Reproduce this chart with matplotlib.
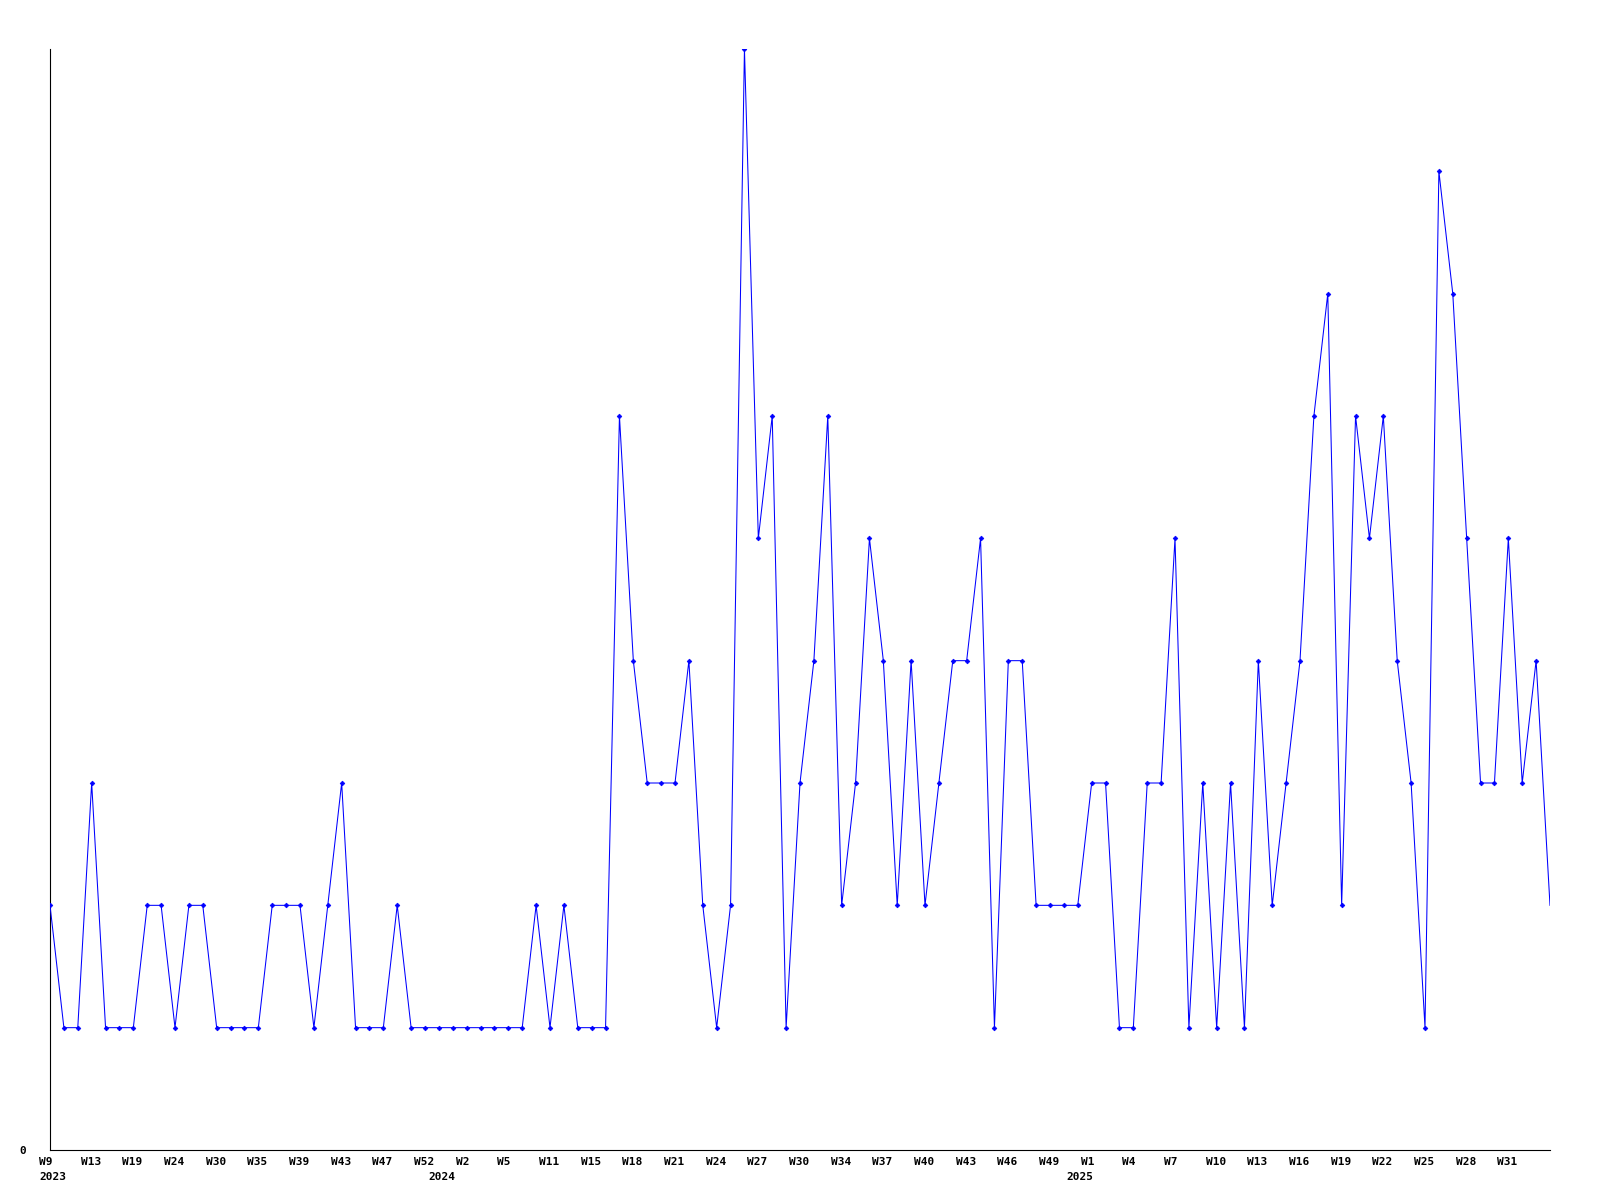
import matplotlib
matplotlib.use("Agg")
import matplotlib.pyplot as plt
import matplotlib.transforms as mtransforms

# ---- data -------------------------------------------------------------
values = [2, 1, 1, 3, 1, 1, 1, 2, 2, 1,
          2, 2, 1, 1, 1, 1, 2, 2, 2, 1,
          2, 3, 1, 1, 1, 2, 1, 1, 1, 1,
          1, 1, 1, 1, 1, 2, 1, 2, 1, 1,
          1, 6, 4, 3, 3, 3, 4, 2, 1, 2,
          9, 5, 6, 1, 3, 4, 6, 2, 3, 5,
          4, 2, 4, 2, 3, 4, 4, 5, 1, 4,
          4, 2, 2, 2, 2, 3, 3, 1, 1, 3,
          3, 5, 1, 3, 1, 3, 1, 4, 2, 3,
          4, 6, 7, 2, 6, 5, 6, 4, 3, 1,
          8, 7, 5, 3, 3, 5, 3, 4, 2]

week_labels = ["W9", "W13", "W19", "W24", "W30", "W35", "W39", "W43", "W47",
               "W52", "W2", "W5", "W11", "W15", "W18", "W21", "W24", "W27",
               "W30", "W34", "W37", "W40", "W43", "W46", "W49", "W1", "W4",
               "W7", "W10", "W13", "W16", "W19", "W22", "W25", "W28", "W31"]
week_label_step = 3

years = ["2023", "2024", "2025"]
year_positions = [0, 28, 74]

y_tick_values = [0]
y_tick_labels = ["0"]
y_max = 9

# ---- figure -----------------------------------------------------------
DPI = 100
fig = plt.figure(figsize=(16, 12), dpi=DPI, facecolor="white")
W, H = 1600, 1200
left_px, right_px, top_px, bottom_px = 50, 1550, 49, 1150
ax = fig.add_axes([left_px / W, 1 - bottom_px / H,
                   (right_px - left_px) / W, (bottom_px - top_px) / H])

xs = list(range(len(values)))
ax.plot(xs, values, color="#0000ff", linewidth=0.75, marker="D",
        markersize=2.4, markeredgewidth=0.5, markevery=list(range(len(values) - 1)),
        antialiased=True, zorder=3)

ax.set_xlim(0, len(values) - 1)
ax.set_ylim(0, y_max)

for side in ("top", "right"):
    ax.spines[side].set_visible(False)
for side in ("left", "bottom"):
    ax.spines[side].set_color("black")
    ax.spines[side].set_linewidth(0.8)

font = dict(family="DejaVu Sans Mono", weight="bold", size=8)

# x tick labels: left-aligned, shifted a few px left of the point
tick_pos = [i * week_label_step for i in range(len(week_labels))]
ax.set_xticks(tick_pos)
ax.set_xticklabels(week_labels, ha="left", **font)
ax.tick_params(axis="x", length=0, pad=5)
shift = mtransforms.ScaledTranslation(-11 / DPI, 0, fig.dpi_scale_trans)
for lbl in ax.get_xticklabels():
    lbl.set_transform(lbl.get_transform() + shift)

# y tick label
ax.set_yticks(y_tick_values)
ax.set_yticklabels(y_tick_labels, **font)
ax.tick_params(axis="y", length=0, pad=17)

# year labels under the week labels
for yr, pos in zip(years, year_positions):
    ax.annotate(yr, xy=(pos, 0), xycoords=("data", "axes fraction"),
                xytext=(-11 * 72 / DPI, -27 * 72 / DPI), textcoords="offset points",
                ha="left", va="center", **font)

fig.savefig("out.png", dpi=DPI, facecolor="white")
